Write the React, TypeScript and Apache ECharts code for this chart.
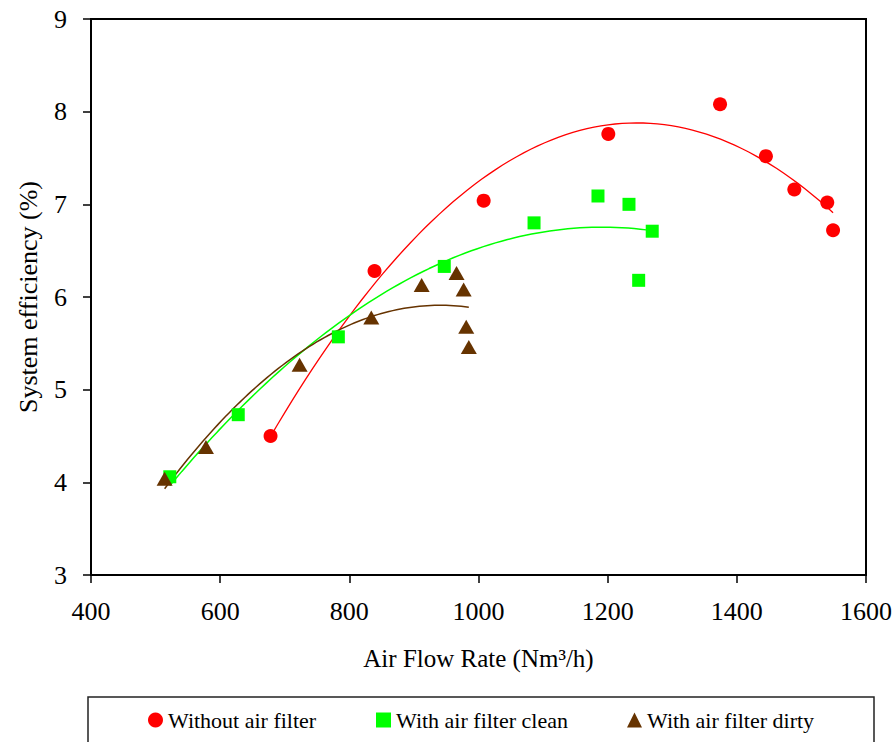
import React, { useEffect, useRef } from "react";
import * as echarts from "echarts";

const xTicks = [400, 600, 800, 1000, 1200, 1400, 1600];
const yTicks = [3, 4, 5, 6, 7, 8, 9];

const redName = "Without air filter";
const redX = [678, 839, 1008, 1201, 1374, 1445, 1489, 1540, 1549];
const redY = [4.5, 6.28, 7.04, 7.76, 8.08, 7.52, 7.16, 7.02, 6.72];

const greenName = "With air filter clean";
const greenX = [522, 628, 783, 947, 1086, 1185, 1233, 1248, 1269];
const greenY = [4.06, 4.73, 5.57, 6.33, 6.8, 7.09, 7.0, 6.18, 6.71];

const brownName = "With air filter dirty";
const brownX = [514, 578, 723, 834, 912, 966, 977, 981, 985];
const brownY = [4.04, 4.38, 5.27, 5.78, 6.13, 6.26, 6.08, 5.68, 5.46];

const RED = "#FF0000";
const GREEN = "#00FF00";
const BROWN = "#663300";
const FONT = "Liberation Serif";

// Order-2 polynomial least-squares trendline (like the spreadsheet's trendline)
function quadFit(xs: number[], ys: number[]) {
  const s = (x: number) => x / 1000;
  let S = [0, 0, 0, 0, 0];
  let T = [0, 0, 0];
  for (let i = 0; i < xs.length; i++) {
    const u = s(xs[i]);
    for (let k = 0; k < 5; k++) S[k] += Math.pow(u, k);
    for (let k = 0; k < 3; k++) T[k] += ys[i] * Math.pow(u, k);
  }
  const A = [
    [S[0], S[1], S[2], T[0]],
    [S[1], S[2], S[3], T[1]],
    [S[2], S[3], S[4], T[2]],
  ];
  for (let c = 0; c < 3; c++) {
    let p = c;
    for (let r = c + 1; r < 3; r++) if (Math.abs(A[r][c]) > Math.abs(A[p][c])) p = r;
    [A[c], A[p]] = [A[p], A[c]];
    for (let r = 0; r < 3; r++) {
      if (r === c) continue;
      const f = A[r][c] / A[c][c];
      for (let k = c; k < 4; k++) A[r][k] -= f * A[c][k];
    }
  }
  const coef = [A[0][3] / A[0][0], A[1][3] / A[1][1], A[2][3] / A[2][2]];
  const lo = Math.min(...xs);
  const hi = Math.max(...xs);
  const pts: number[][] = [];
  const n = 80;
  for (let i = 0; i <= n; i++) {
    const x = lo + ((hi - lo) * i) / n;
    const u = s(x);
    pts.push([x, coef[0] + coef[1] * u + coef[2] * u * u]);
  }
  return pts;
}

const zip = (xs: number[], ys: number[]) => xs.map((x, i) => [x, ys[i]]);

export default function App() {
  const ref = useRef<HTMLDivElement>(null);
  useEffect(() => {
    document.body.style.margin = "0";
    if (!ref.current) return;
    const chart = echarts.init(ref.current, undefined, { renderer: "svg" });
    const legendText = { fontFamily: FONT, fontSize: 22, color: "#000" };
    const mkLegend = (name: string, left: number) => ({
      data: [name],
      left,
      top: 709,
      padding: 0,
      itemWidth: 15,
      itemHeight: 15,
      itemGap: 5,
      textStyle: legendText,
      selectedMode: false,
    });
    chart.setOption({
      animation: false,
      backgroundColor: "#fff",
      grid: {
        left: 91,
        right: 28,
        top: 19,
        bottom: 167,
        show: true,
        borderColor: "#000",
        borderWidth: 2,
      },
      xAxis: {
        type: "value",
        min: xTicks[0],
        max: xTicks[xTicks.length - 1],
        interval: 200,
        name: "Air Flow Rate (Nm³/h)",
        nameLocation: "middle",
        nameGap: 71,
        nameTextStyle: { fontFamily: FONT, fontSize: 25, color: "#000" },
        axisLine: { show: true, lineStyle: { color: "#000", width: 2 } },
        axisTick: { show: true, inside: false, length: 8, lineStyle: { color: "#000", width: 1.5 } },
        axisLabel: {
          fontFamily: FONT,
          fontSize: 26,
          color: "#000",
          margin: 23,
          formatter: (v: number) => String(v),
        },
        splitLine: { show: false },
      },
      yAxis: {
        type: "value",
        min: yTicks[0],
        max: yTicks[yTicks.length - 1],
        interval: 1,
        name: "System efficiency (%)",
        nameLocation: "middle",
        nameGap: 50,
        nameRotate: 90,
        nameTextStyle: { fontFamily: FONT, fontSize: 26, color: "#000" },
        axisLine: { show: true, lineStyle: { color: "#000", width: 2 } },
        axisTick: { show: true, inside: false, length: 8, lineStyle: { color: "#000", width: 1.5 } },
        axisLabel: {
          fontFamily: FONT,
          fontSize: 26,
          color: "#000",
          margin: 24,
          formatter: (v: number) => String(v),
        },
        splitLine: { show: false },
      },
      legend: [mkLegend(redName, 148), mkLegend(greenName, 376), mkLegend(brownName, 627)],
      graphic: [
        {
          type: "rect",
          shape: { x: 88, y: 697, width: 786, height: 70 },
          style: { fill: "none", stroke: "#222", lineWidth: 1.5 },
          silent: true,
          z: 0,
        },
      ],
      series: [
        {
          name: redName + " trend",
          type: "line",
          data: quadFit(redX, redY),
          showSymbol: false,
          lineStyle: { color: RED, width: 1.3 },
          z: 2,
        },
        {
          name: greenName + " trend",
          type: "line",
          data: quadFit(greenX, greenY),
          showSymbol: false,
          lineStyle: { color: GREEN, width: 1.5 },
          z: 2,
        },
        {
          name: brownName + " trend",
          type: "line",
          data: quadFit(brownX, brownY),
          showSymbol: false,
          lineStyle: { color: BROWN, width: 1.5 },
          z: 2,
        },
        {
          name: redName,
          type: "scatter",
          data: zip(redX, redY),
          symbol: "circle",
          symbolSize: 14,
          itemStyle: { color: RED, opacity: 1 },
          z: 3,
        },
        {
          name: greenName,
          type: "scatter",
          data: zip(greenX, greenY),
          symbol: "rect",
          symbolSize: 13,
          itemStyle: { color: GREEN, opacity: 1 },
          z: 3,
        },
        {
          name: brownName,
          type: "scatter",
          data: zip(brownX, brownY),
          symbol: "triangle",
          symbolSize: [16, 14],
          itemStyle: { color: BROWN, opacity: 1 },
          z: 3,
        },
      ],
    });
    return () => chart.dispose();
  }, []);
  return <div ref={ref} style={{ width: 895, height: 742 }} />;
}
